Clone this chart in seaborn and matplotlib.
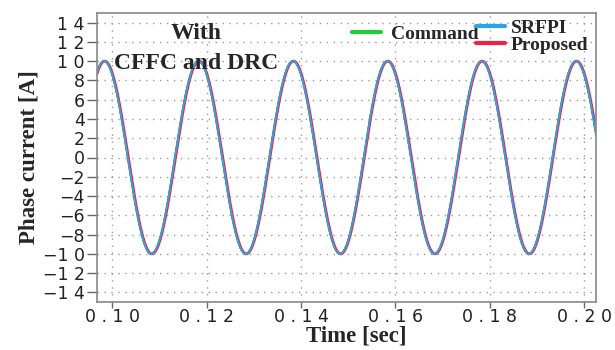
import numpy as np
import pandas as pd
import matplotlib
matplotlib.use("Agg")
import matplotlib.pyplot as plt
from matplotlib.lines import Line2D
from matplotlib.ticker import FuncFormatter
import seaborn as sns

# Waveform parameters of each phase-current trace (amplitude [A], frequency [Hz], time of first peak [s])
series_names = ["Command", "SRFPI", "Proposed"]
amplitudes = [10.0, 10.0, 10.0]
frequencies = [50.0, 50.0, 50.0]
peak_times = [0.0983, 0.0983, 0.0984]
colors = ["#22cc33", "#2aa6e8", "#ee2244"]

x_ticks = [0.10, 0.12, 0.14, 0.16, 0.18, 0.20]
y_ticks = list(range(-14, 15, 2))

t = np.linspace(0.0965, 0.2026, 2000)
frames = []
for name, amp, f, tp in zip(series_names, amplitudes, frequencies, peak_times):
    frames.append(pd.DataFrame({
        "time": t,
        "current": amp * np.cos(2 * np.pi * f * (t - tp)),
        "series": name,
    }))
df = pd.concat(frames, ignore_index=True)

sns.set_theme(style="white")
serif = ["Liberation Serif", "DejaVu Serif"]
plt.rcParams["font.family"] = ["DejaVu Sans"]

fig = plt.figure(figsize=(6.15, 3.5), dpi=100)
ax = fig.add_axes([0.158, 0.137, 0.811, 0.826])

# draw order: command underneath, then proposed, SRFPI on top
widths = {"Command": 1.6, "Proposed": 2.0, "SRFPI": 1.3}
for name in ["Command", "Proposed", "SRFPI"]:
    sns.lineplot(data=df[df["series"] == name], x="time", y="current",
                 color=colors[series_names.index(name)], lw=widths[name],
                 ax=ax, legend=False, estimator=None, sort=False)

ax.set_xlim(0.0968, 0.2025)
ax.set_ylim(-15, 15)
ax.set_xticks(x_ticks)
ax.set_yticks(y_ticks)


def spaced(s):
    return " ".join(s)


ax.xaxis.set_major_formatter(FuncFormatter(lambda v, p: spaced(f"{v:.2f}")))
ax.yaxis.set_major_formatter(FuncFormatter(
    lambda v, p: ("\u2212" + spaced(str(abs(int(round(v)))))) if v < 0 else spaced(str(int(round(v))))))

ax.tick_params(axis="both", which="major", direction="out", width=1,
               color="#666666", labelsize=12.5, labelcolor="#222222")
ax.tick_params(axis="x", length=4, pad=0)
ax.tick_params(axis="y", length=7, pad=2)
ax.tick_params(bottom=True, left=True)

ax.grid(True, linestyle=(0, (1, 4)), color="#999999", linewidth=1.0)
for sp in ax.spines.values():
    sp.set_color("#888888")
    sp.set_linewidth(1.2)

ax.set_xlabel("Time [sec]", family=serif, fontweight="bold", fontsize=16.5, labelpad=0)
ax.xaxis.label.set_x(0.519)
ax.set_ylabel("Phase current [A]", family=serif, fontweight="bold", fontsize=16.5, labelpad=2)

ax.text(0.198, 0.965, "With", transform=ax.transAxes, ha="center", va="top",
        family=serif, fontweight="bold", fontsize=17)
ax.text(0.198, 0.862, "CFFC and DRC", transform=ax.transAxes, ha="center", va="top",
        family=serif, fontweight="bold", fontsize=17)

# legend: command on its own, the two controllers stacked to the right
h_cmd = [Line2D([], [], color=colors[0], lw=3)]
leg1 = ax.legend(h_cmd, ["Command"], loc="center", bbox_to_anchor=(0.637, 0.927),
                 frameon=False, prop={"family": serif, "weight": "bold", "size": 14},
                 handlelength=1.5, handletextpad=0.5, borderpad=0)
ax.add_artist(leg1)
h_ctrl = [Line2D([], [], color=colors[1], lw=3), Line2D([], [], color=colors[2], lw=3)]
ax.legend(h_ctrl, ["SRFPI", "Proposed"], loc="center", bbox_to_anchor=(0.872, 0.918),
          frameon=False, prop={"family": serif, "weight": "bold", "size": 14},
          handlelength=1.5, handletextpad=0.3, labelspacing=0.0, borderpad=0)

fig.savefig("out.png", dpi=100)
